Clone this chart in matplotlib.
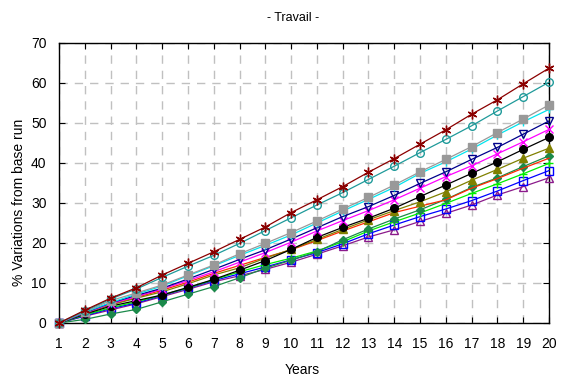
import numpy as np
import matplotlib
matplotlib.use("Agg")
import matplotlib.pyplot as plt

plt.rcParams["font.family"] = ["Liberation Sans", "DejaVu Sans"]

years = list(range(1, 21))

dark_red = [0, 3.2, 6.2, 8.8, 12.0, 14.9, 17.8, 20.9, 24.0, 27.6, 30.8, 34.1, 37.7, 41.1, 44.7, 48.3, 52.2, 55.8, 59.8, 63.7]
teal = [0, 3.0, 6.0, 8.5, 11.4, 14.2, 16.9, 19.9, 23.1, 26.3, 29.5, 32.6, 35.9, 39.2, 42.6, 45.9, 49.3, 53.0, 56.6, 60.2]
gray = [0, 2.8, 5.6, 7.5, 9.5, 12.0, 14.5, 17.3, 19.9, 22.6, 25.5, 28.5, 31.4, 34.5, 37.8, 40.9, 44.1, 47.6, 51.0, 54.5]
cyan = [0, 2.7, 5.1, 7.2, 9.25, 11.8, 14.3, 16.9, 19.4, 22.0, 25.0, 28.0, 30.9, 33.9, 37.4, 40.3, 43.5, 47.0, 50.3, 53.4]
navy = [0, 2.6, 5.0, 6.9, 8.7, 11.0, 13.4, 15.9, 18.3, 21.0, 23.8, 26.6, 29.1, 31.9, 34.9, 37.8, 40.9, 43.9, 47.2, 50.5]
magenta = [0, 2.5, 4.8, 6.6, 8.5, 10.6, 12.8, 15.2, 17.6, 20.2, 23.0, 25.6, 28.1, 30.8, 33.7, 36.6, 39.3, 42.3, 45.3, 48.4]
black = [0, 2.2, 4.2, 5.6, 7.0, 8.9, 10.9, 13.2, 15.6, 18.4, 21.4, 23.9, 26.2, 28.7, 31.6, 34.5, 37.4, 40.3, 43.4, 46.4]
olive = [0, 2.4, 4.5, 6.2, 7.8, 9.8, 12.0, 13.8, 16.2, 18.4, 20.9, 23.4, 25.8, 28.1, 30.3, 32.8, 35.7, 38.4, 41.2, 43.7]
red = [0, 2.5, 4.6, 6.4, 8.2, 10.2, 12.4, 14.4, 16.4, 18.3, 20.6, 23.0, 25.3, 27.6, 29.2, 30.8, 33.7, 36.1, 38.7, 41.2]
sea_green = [0, 0.9, 2.25, 3.4, 5.3, 7.2, 9.1, 11.3, 13.7, 15.7, 17.8, 20.8, 23.5, 26.0, 28.3, 30.9, 33.9, 36.3, 39.1, 41.8]
green = [0, 2.0, 3.8, 5.3, 7.0, 8.8, 10.8, 12.8, 14.6, 16.2, 18.0, 20.3, 23.0, 25.3, 27.5, 29.9, 32.4, 34.8, 37.3, 39.9]
blue = [0, 1.8, 3.6, 5.0, 6.9, 8.7, 10.6, 12.3, 14.0, 15.8, 17.6, 19.8, 22.3, 24.5, 26.6, 28.5, 30.6, 33.0, 35.6, 38.1]
purple = [0, 1.7, 3.25, 4.8, 6.6, 8.4, 10.3, 11.8, 13.4, 15.2, 17.2, 19.3, 21.5, 23.3, 25.4, 27.4, 29.5, 32.0, 34.1, 36.3]

# (values, color, marker, filled)
series = [
    (purple, "#8b1a8b", "^", False),
    (blue, "#0000ff", "s", False),
    (green, "#00ee00", "+", True),
    (sea_green, "#1b8a4a", "D", True),
    (red, "#ff2a00", "", True),
    (olive, "#808000", "^", True),
    (black, "#000000", "o", True),
    (magenta, "#ff00ff", "x", True),
    (navy, "#00008b", "v", False),
    (cyan, "#00e5ee", "+", True),
    (gray, "#999999", "s", True),
    (teal, "#1f9a9a", "o", False),
    (dark_red, "#8b0000", (6, 2, 0), True),
]

fig = plt.figure(figsize=(5.67, 3.83), dpi=100)
ax = fig.add_axes([59 / 567, 1 - 323 / 383, 490 / 567, 280 / 383])

for vals, col, mk, filled in series:
    if mk == "D":
        ms = 4.5
    elif mk == (6, 2, 0):
        ms = 7
    else:
        ms = 5.5
    ax.plot(years, vals, color=col, lw=0.9, marker=mk if mk != "" else None,
            markersize=ms,
            markerfacecolor=col if filled else "none",
            markeredgecolor=col, markeredgewidth=1.0, clip_on=False, zorder=3)

ax.set_xlim(1, 20)
ax.set_ylim(0, 70)
ax.set_xticks(years)
ax.set_yticks(np.arange(0, 71, 10))
ax.grid(True, color="#c0c0c0", linestyle=(0, (6, 5)), linewidth=1.0)
ax.set_axisbelow(True)
ax.tick_params(direction="in", top=True, right=True, length=4, width=0.8,
               labelsize=10, pad=9)
ax.tick_params(axis="x", pad=10)
for sp in ax.spines.values():
    sp.set_linewidth(1.0)

ax.set_xlabel("Years", fontsize=10)
ax.xaxis.set_label_coords(0.496, -0.143)
ax.set_ylabel("% Variations from base run", fontsize=10)
ax.yaxis.set_label_coords(-0.067, 0.43)
fig.text(293 / 567, 1 - 18 / 383, "- Travail -", ha="center", va="center", fontsize=9)

fig.savefig("out.png", dpi=100)
